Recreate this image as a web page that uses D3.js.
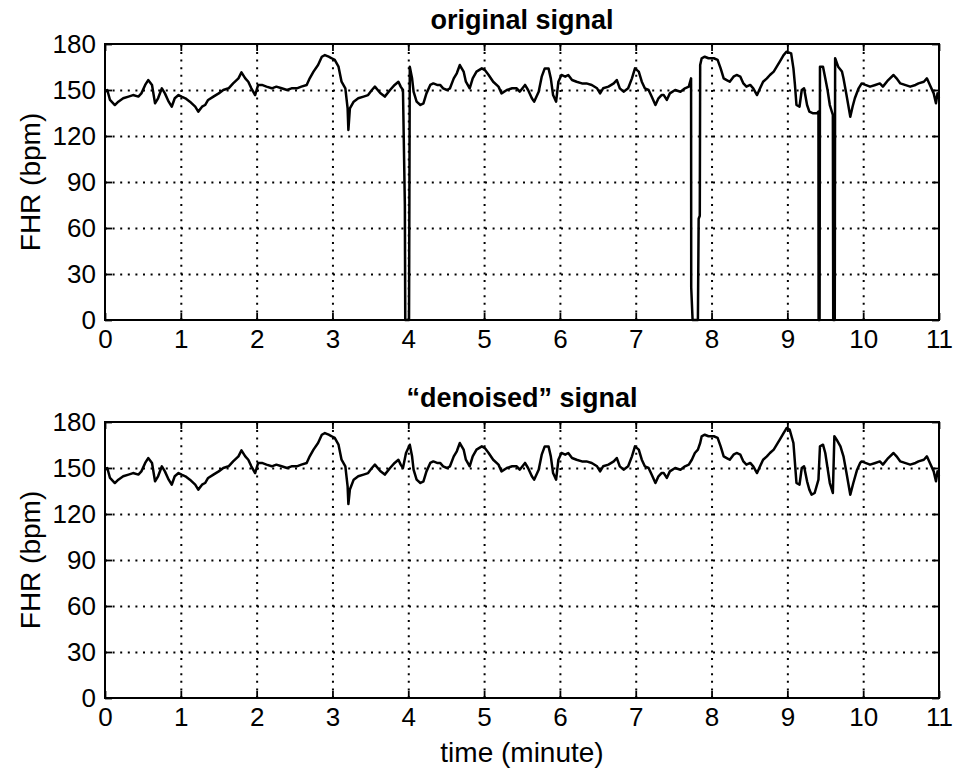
<!DOCTYPE html>
<html>
<head>
<meta charset="utf-8">
<title>FHR original vs denoised</title>
<script src="https://d3js.org/d3.v7.min.js"></script>
<style>
  body { margin: 0; background: #fff; }
  svg text { font-family: Arial, "Liberation Sans", Helvetica, sans-serif; fill: #000; }
  .grid line { stroke: #000; stroke-width: 2; stroke-dasharray: 2,5.6; }
  .grid .domain { display: none; }
  .ax .domain { display: none; }
  .ax line { stroke: #000; stroke-width: 1.8; }
  .ax text { font-size: 26px; }
</style>
</head>
<body>
<div id="chart"></div>
<script>

// time in minutes, FHR in bpm
var originalSignal = [
  [0.00,148.9],[0.03,150],[0.066,143.5],[0.13,140.2],[0.176,142.4],[0.24,144.6],[0.31,145.7],[0.37,146.7],
  [0.44,145.7],[0.48,147.8],[0.53,153.3],[0.57,156.5],[0.62,153.3],[0.66,141.3],[0.70,144.6],[0.75,151.1],
  [0.79,147.8],[0.84,142.4],[0.88,139.1],[0.92,144.6],[0.97,146.7],[1.01,145.7],[1.06,144.6],[1.12,142.4],
  [1.19,139.1],[1.23,135.9],[1.28,139.1],[1.32,140.2],[1.36,143.5],[1.43,145.7],[1.50,147.8],[1.56,150],
  [1.63,151.1],[1.69,154.3],[1.76,157.6],[1.80,161.5],[1.85,157.6],[1.89,155.4],[1.93,151.1],[1.98,146.7],
  [2.02,153.3],[2.07,153.3],[2.13,152.2],[2.20,151.1],[2.26,152.2],[2.33,151.1],[2.40,150],[2.46,151.1],
  [2.53,151.1],[2.59,152.2],[2.66,153.3],[2.70,157.6],[2.75,162],[2.81,166.3],[2.86,171.7],[2.90,172.8],
  [2.95,171.7],[2.99,170.7],[3.03,169.6],[3.08,165.2],[3.12,155.4],[3.17,151.1],[3.20,138],[3.21,123.9],
  [3.23,138],[3.28,142.4],[3.34,144.6],[3.41,145.7],[3.47,146.7],[3.52,150],[3.56,152.2],[3.63,148],
  [3.69,145.7],[3.76,150],[3.82,153.3],[3.87,155.4],[3.90,152.2],[3.93,150],
  [3.955,75],[3.96,0],[4.01,0],[4.02,165.2],
  [4.05,157.6],[4.07,148.9],[4.11,142.4],[4.16,140.2],[4.20,141.3],[4.24,147.8],[4.29,153.3],[4.33,154.3],
  [4.38,153.3],[4.42,153.3],[4.46,151.1],[4.51,150],[4.55,151.1],[4.60,157.6],[4.64,160.9],[4.68,166.3],
  [4.73,162],[4.76,155.4],[4.81,151.1],[4.85,157.6],[4.90,162],[4.97,164.1],[5.01,163],[5.06,159.8],
  [5.12,155.4],[5.19,152.2],[5.23,147.8],[5.30,150],[5.37,151.1],[5.43,151.1],[5.47,148.9],[5.54,153.3],
  [5.58,150],[5.63,144.6],[5.66,142.4],[5.72,148.9],[5.76,158.7],[5.80,164.1],[5.85,164.1],[5.88,157.6],
  [5.91,146.7],[5.95,142.4],[5.98,155.4],[6.02,159.8],[6.07,158.7],[6.11,159.8],[6.16,156.5],[6.22,155.4],
  [6.29,154.3],[6.35,154.3],[6.42,153.3],[6.49,151.1],[6.53,147.8],[6.57,151.1],[6.64,152.2],[6.71,154.3],
  [6.75,156.5],[6.79,151.1],[6.84,148.9],[6.90,151.1],[6.95,157.6],[6.99,164.1],[7.04,162],[7.08,155.4],
  [7.12,151.1],[7.17,150],[7.21,145.7],[7.26,140.2],[7.30,144.6],[7.34,146.7],[7.37,146.7],[7.41,143.5],
  [7.45,147.8],[7.52,150],[7.59,148.9],[7.65,151.1],[7.70,152.2],[7.73,157.6],
  [7.732,21],[7.75,0],[7.82,0],[7.83,66],[7.845,68],[7.85,166.3],
  [7.87,170.7],[7.91,171.7],[7.96,170.7],[8.03,170.7],[8.08,169.6],[8.12,164.1],[8.16,157.6],[8.20,156.5],
  [8.24,155.4],[8.29,158.7],[8.33,159.8],[8.38,158.7],[8.42,154.3],[8.46,152.2],[8.51,153.3],[8.55,151.1],
  [8.60,146.7],[8.64,151.1],[8.68,155.4],[8.73,157.6],[8.77,159.8],[8.82,162],[8.86,165.2],[8.90,168.5],
  [8.95,172.8],[8.99,175],[9.05,173.9],[9.08,164.1],[9.10,153.3],[9.12,140.2],[9.16,139.1],[9.19,150],
  [9.22,151.1],[9.26,140.2],[9.29,135.9],[9.34,134.8],[9.39,134.8],[9.41,135.9],
  [9.412,0],[9.425,0],[9.43,165.2],
  [9.47,165.2],[9.50,157.6],[9.53,150],[9.56,140.2],[9.60,133.7],
  [9.605,0],[9.625,0],[9.63,170.7],
  [9.67,165.2],[9.72,162],[9.74,157.6],[9.78,146.7],[9.83,132.6],[9.86,139.1],[9.89,144.6],[9.94,151.1],
  [9.98,154.3],[10.03,153.3],[10.09,152.2],[10.16,153.3],[10.22,154.3],[10.26,152.2],[10.33,156.5],[10.40,159.8],
  [10.44,157.6],[10.49,154.3],[10.55,153.3],[10.62,152.2],[10.69,153.3],[10.73,154.3],[10.80,155.4],[10.84,157.6],
  [10.88,153.3],[10.93,147.8],[10.96,141.3],[10.98,147.8],[11.0,144.6]
];

var denoisedSignal = [
  [0.00,148.9],[0.03,150],[0.066,143.5],[0.13,140.2],[0.176,142.4],[0.24,144.6],[0.31,145.7],[0.37,146.7],
  [0.44,145.7],[0.48,147.8],[0.53,153.3],[0.57,156.5],[0.62,153.3],[0.66,141.3],[0.70,144.6],[0.75,151.1],
  [0.79,147.8],[0.84,142.4],[0.88,139.1],[0.92,144.6],[0.97,146.7],[1.01,145.7],[1.06,144.6],[1.12,142.4],
  [1.19,139.1],[1.23,135.9],[1.28,139.1],[1.32,140.2],[1.36,143.5],[1.43,145.7],[1.50,147.8],[1.56,150],
  [1.63,151.1],[1.69,154.3],[1.76,157.6],[1.80,161.5],[1.85,157.6],[1.89,155.4],[1.93,151.1],[1.98,146.7],
  [2.02,153.3],[2.07,153.3],[2.13,152.2],[2.20,151.1],[2.26,152.2],[2.33,151.1],[2.40,150],[2.46,151.1],
  [2.53,151.1],[2.59,152.2],[2.66,153.3],[2.70,157.6],[2.75,162],[2.81,166.3],[2.86,171.7],[2.90,172.8],
  [2.95,171.7],[2.99,170.7],[3.03,169.6],[3.08,165.2],[3.12,155.4],[3.17,151.1],[3.20,138],[3.21,126.5],
  [3.23,136],[3.28,142.4],[3.34,144.6],[3.41,145.7],[3.47,146.7],[3.52,150],[3.56,152.2],[3.63,148],
  [3.69,145.7],[3.76,150],[3.82,153.3],[3.87,155.4],[3.90,152.2],[3.93,150],[3.97,159.8],[4.02,165.2],
  [4.05,157.6],[4.07,148.9],[4.11,142.4],[4.16,140.2],[4.20,141.3],[4.24,147.8],[4.29,153.3],[4.33,154.3],
  [4.38,153.3],[4.42,153.3],[4.46,151.1],[4.51,150],[4.55,151.1],[4.60,157.6],[4.64,160.9],[4.68,166.3],
  [4.73,162],[4.76,155.4],[4.81,151.1],[4.85,157.6],[4.90,162],[4.97,164.1],[5.01,163],[5.06,159.8],
  [5.12,155.4],[5.19,152.2],[5.23,147.8],[5.30,150],[5.37,151.1],[5.43,151.1],[5.47,148.9],[5.54,153.3],
  [5.58,150],[5.63,144.6],[5.66,142.4],[5.72,148.9],[5.76,158.7],[5.80,164.1],[5.85,164.1],[5.88,157.6],
  [5.91,146.7],[5.95,142.4],[5.98,155.4],[6.02,159.8],[6.07,158.7],[6.11,159.8],[6.16,156.5],[6.22,155.4],
  [6.29,154.3],[6.35,154.3],[6.42,153.3],[6.49,151.1],[6.53,147.8],[6.57,151.1],[6.64,152.2],[6.71,154.3],
  [6.75,156.5],[6.79,151.1],[6.84,148.9],[6.90,151.1],[6.95,157.6],[6.99,164.1],[7.04,162],[7.08,155.4],
  [7.12,151.1],[7.17,150],[7.21,145.7],[7.26,140.2],[7.30,144.6],[7.34,146.7],[7.37,146.7],[7.41,143.5],
  [7.45,147.8],[7.52,150],[7.59,148.9],[7.65,151.1],[7.70,152.2],[7.74,155.4],[7.78,159.8],[7.82,162],
  [7.85,166.3],[7.87,170.7],[7.91,171.7],[7.96,170.7],[8.03,170.7],[8.08,169.6],[8.12,164.1],[8.16,157.6],
  [8.20,156.5],[8.24,155.4],[8.29,158.7],[8.33,159.8],[8.38,158.7],[8.42,154.3],[8.46,152.2],[8.51,153.3],
  [8.55,151.1],[8.60,146.7],[8.64,151.1],[8.68,155.4],[8.73,157.6],[8.77,159.8],[8.82,162],[8.86,165.2],
  [8.90,168.5],[8.95,172.8],[8.99,176],[9.03,175],[9.08,166.3],[9.10,153.3],[9.12,140.2],[9.16,139.1],
  [9.19,150],[9.22,151.1],[9.26,141.3],[9.29,135.9],[9.32,132.6],[9.36,133.7],[9.41,142.4],[9.43,164.1],
  [9.47,165.2],[9.50,159.8],[9.53,150],[9.56,140.2],[9.60,133.7],[9.62,170.7],[9.65,168.5],[9.70,164.1],
  [9.74,157.6],[9.78,146.7],[9.83,132.6],[9.87,140.2],[9.92,148.9],[9.96,153.3],[9.98,154.3],[10.03,153.3],
  [10.09,152.2],[10.16,153.3],[10.22,154.3],[10.26,152.2],[10.33,156.5],[10.40,159.8],[10.44,157.6],[10.49,154.3],
  [10.55,153.3],[10.62,152.2],[10.69,153.3],[10.73,154.3],[10.80,155.4],[10.84,157.6],[10.88,153.3],[10.93,147.8],
  [10.96,141.3],[10.98,147.8],[11.0,144.6]
];

var xTicks = [0,1,2,3,4,5,6,7,8,9,10,11];
var yTicks = [0,30,60,90,120,150,180];
var panelTitles = ["original signal", "\u201cdenoised\u201d signal"];
var yLabel = "FHR (bpm)";
var xLabel = "time (minute)";

var W = 953, H = 770;
var left = 105, right = 939, plotH = 276;
var panelTops = [44, 422];

var svg = d3.select("#chart").append("svg")
    .attr("width", W)
    .attr("height", H);

var x = d3.scaleLinear().domain([0, 11]).range([left, right]);

function drawPanel(top, data, title, showXLabel) {
    var y = d3.scaleLinear().domain([0, 180]).range([top + plotH, top]);
    var g = svg.append("g");

    // dotted grid
    g.append("g").attr("class", "grid")
        .attr("transform", "translate(0," + (top + plotH) + ")")
        .call(d3.axisBottom(x).tickValues(xTicks.slice(1, -1)).tickSize(-plotH).tickFormat(""));
    g.append("g").attr("class", "grid")
        .attr("transform", "translate(" + left + ",0)")
        .call(d3.axisLeft(y).tickValues(yTicks.slice(1, -1)).tickSize(-(right - left)).tickFormat(""));

    // signal
    var line = d3.line().x(function(d) { return x(d[0]); }).y(function(d) { return y(d[1]); });
    g.append("path")
        .datum(data)
        .attr("d", line)
        .attr("fill", "none")
        .attr("stroke", "#000")
        .attr("stroke-width", 2.5)
        .attr("stroke-linejoin", "round");

    // axes, ticks pointing inward like matlab
    g.append("g").attr("class", "ax")
        .attr("transform", "translate(0," + (top + plotH) + ")")
        .call(d3.axisBottom(x).tickValues(xTicks).tickSizeInner(-7).tickSizeOuter(0).tickPadding(10));
    g.append("g").attr("class", "ax")
        .attr("transform", "translate(0," + top + ")")
        .call(d3.axisTop(x).tickValues(xTicks).tickSizeInner(-7).tickSizeOuter(0).tickFormat(""));
    g.append("g").attr("class", "ax")
        .attr("transform", "translate(" + left + ",0)")
        .call(d3.axisLeft(y).tickValues(yTicks).tickSizeInner(-7).tickSizeOuter(0).tickPadding(9));
    g.append("g").attr("class", "ax")
        .attr("transform", "translate(" + right + ",0)")
        .call(d3.axisRight(y).tickValues(yTicks).tickSizeInner(-7).tickSizeOuter(0).tickFormat(""));

    g.append("rect")
        .attr("x", left).attr("y", top)
        .attr("width", right - left).attr("height", plotH)
        .attr("fill", "none").attr("stroke", "#000").attr("stroke-width", 2);

    g.append("text")
        .attr("x", (left + right) / 2)
        .attr("y", top - 15)
        .attr("text-anchor", "middle")
        .style("font-size", "27px")
        .style("font-weight", "bold")
        .text(title);

    g.append("text")
        .attr("transform", "translate(40," + (top + plotH / 2) + ") rotate(-90)")
        .attr("text-anchor", "middle")
        .style("font-size", "28px")
        .text(yLabel);

    if (showXLabel) {
        g.append("text")
            .attr("x", (left + right) / 2)
            .attr("y", top + plotH + 64)
            .attr("text-anchor", "middle")
            .style("font-size", "28px")
            .text(xLabel);
    }
}

drawPanel(panelTops[0], originalSignal, panelTitles[0], false);
drawPanel(panelTops[1], denoisedSignal, panelTitles[1], true);

</script>
</body>
</html>
